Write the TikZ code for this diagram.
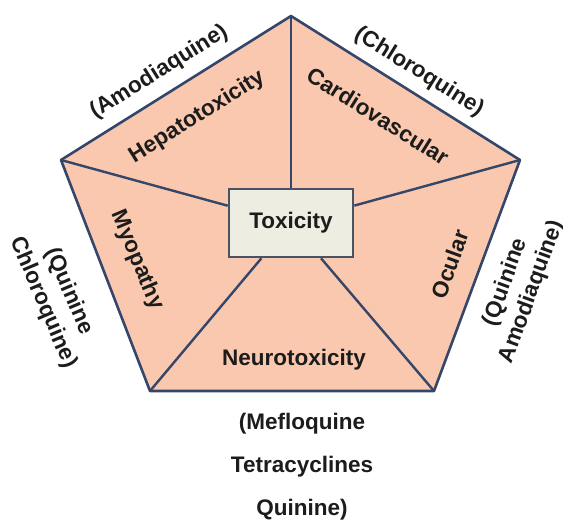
\documentclass[tikz,border=0pt]{standalone}
\usepackage{fontspec}
\setmainfont{Liberation Sans}
\definecolor{peach}{HTML}{FAC8AE}
\definecolor{edgeblue}{HTML}{34466A}
\definecolor{boxfill}{HTML}{EDEDE2}
\definecolor{boxedge}{HTML}{4A5366}
\definecolor{txt}{HTML}{1C1C1C}
\tikzset{
  lbl/.style={font=\fontsize{22.5}{28}\selectfont\bfseries, text=txt, inner sep=0pt, align=center},
  edgeline/.style={draw=edgeblue, line width=2.6pt, line join=round},
  spoke/.style={draw=edgeblue, line width=2.4pt},
  toxbox/.style={draw=boxedge, line width=2.6pt, fill=boxfill, minimum width=124pt, minimum height=68pt, inner sep=0pt, font=\fontsize{22.5}{28}\selectfont\bfseries, text=txt}
}
\begin{document}
\begin{tikzpicture}[x=1pt,y=-1pt]
\useasboundingbox (0,0) rectangle (563,521);
\coordinate (T) at (291,16);
\coordinate (L) at (61,160);
\coordinate (R) at (520,160);
\coordinate (BL) at (150,391);
\coordinate (BR) at (434,391);
\fill[peach] (T) -- (R) -- (BR) -- (BL) -- (L) -- cycle;
\node[toxbox] (tox) at (291,223) {Toxicity};
\draw[spoke] (T) -- (tox);
\draw[spoke] (L) -- (tox);
\draw[spoke] (R) -- (tox);
\draw[spoke] (BL) -- (tox);
\draw[spoke] (BR) -- (tox);
\draw[edgeline] (T) -- (R) -- (BR) -- (BL) -- (L) -- cycle;
\node[lbl, rotate=32] (amod) at (159,72) {(Amodiaquine)};
\node[lbl, rotate=32] (hep) at (197,117) {Hepatotoxicity};
\node[lbl, rotate=-32] (chlo) at (419,72) {(Chloroquine)};
\node[lbl, rotate=-32] (card) at (378,116) {Cardiovascular};
\node[lbl, rotate=-67] (myo) at (137,260) {Myopathy};
\node[lbl, rotate=-67] (quichlo) at (56,297) {(Quinine\\Chloroquine)};
\node[lbl, rotate=70] (ocu) at (450,264) {Ocular};
\node[lbl, rotate=70] (quiamo) at (519,287) {(Quinine\\Amodiaquine)};
\node[lbl] (neuro) at (294,360) {Neurotoxicity};
\node[lbl, font=\fontsize{22.5}{43}\selectfont\bfseries] (meflo) at (302,467) {(Mefloquine\\Tetracyclines\\Quinine)};
\end{tikzpicture}
\end{document}
